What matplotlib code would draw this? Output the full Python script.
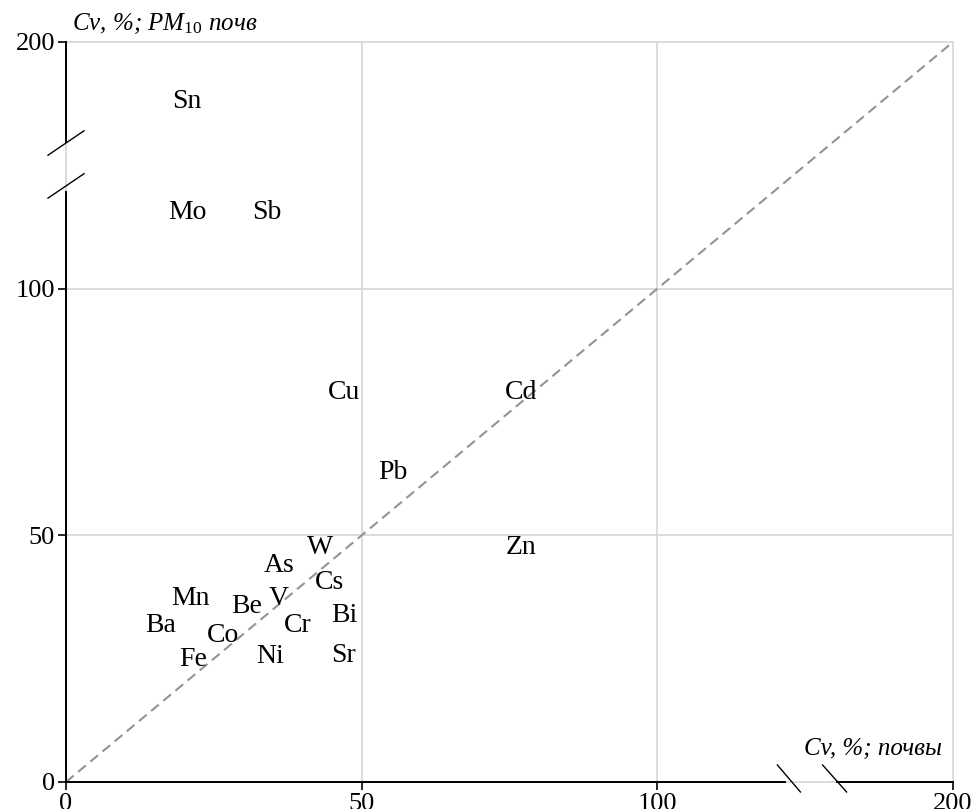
import numpy as np
import matplotlib
matplotlib.use('Agg')
import matplotlib.pyplot as plt

plt.rcParams['font.family'] = 'Liberation Serif'
plt.rcParams['mathtext.fontset'] = 'custom'
plt.rcParams['mathtext.it'] = 'Liberation Serif:italic'
plt.rcParams['mathtext.rm'] = 'Liberation Serif'

# element labels and their Cv values (soil, PM10 of soil)
elements = ['Sn', 'Mo', 'Sb', 'Cu', 'Cd', 'Pb', 'Zn', 'W', 'As', 'Cs',
            'Mn', 'Be', 'V', 'Bi', 'Ba', 'Cr', 'Co', 'Ni', 'Sr', 'Fe']
cv_soil = [20.4, 20.6, 34.0, 47.1, 77.0, 55.2, 77.0, 42.9, 36.1, 44.6,
           21.1, 30.6, 36.0, 47.1, 16.0, 39.2, 26.5, 34.6, 47.0, 21.5]
cv_pm10 = [177, 132, 132, 79.5, 79.5, 63.3, 48.1, 48.1, 44.4, 41.0,
           37.9, 36.1, 37.9, 34.3, 32.3, 32.3, 30.4, 26.0, 26.2, 25.4]

ticks = [0, 50, 100, 200]


# 100..200 squeezed into half the space (axis break)
def fwd(v):
    v = np.asarray(v, dtype=float)
    return np.where(v <= 100, v, 100 + (v - 100) / 2.0)


def inv(m):
    m = np.asarray(m, dtype=float)
    return np.where(m <= 100, m, 100 + (m - 100) * 2.0)


fig = plt.figure(figsize=(9.75, 8.09), dpi=100)
ax = fig.add_axes([66/975, 27/809, 887/975, 740/809])
ax.set_xscale('function', functions=(fwd, inv))
ax.set_yscale('function', functions=(fwd, inv))
ax.set_xlim(0, 200)
ax.set_ylim(0, 200)
ax.set_xticks(ticks)
ax.set_yticks(ticks)
ax.set_xticklabels([str(t) for t in ticks])
ax.set_yticklabels([str(t) for t in ticks])
ax.minorticks_off()

for s in ax.spines.values():
    s.set_visible(False)

ax.grid(True, color='#d9d9d9', lw=1.3)
for gl in ax.get_xgridlines() + ax.get_ygridlines():
    gl.set_clip_on(False)
ax.set_axisbelow(True)

ax.tick_params(direction='out', length=6, width=1.2, color='black',
               labelsize=19, pad=2)

# 1:1 line
ax.plot([0, 100, 200], [0, 100, 200], ls=(0, (4.8, 2.8)), color='#939393', lw=1.5)

for name, x, y in zip(elements, cv_soil, cv_pm10):
    ax.text(x, y, name, ha='center', va='center_baseline', fontsize=20)

# axis lines with breaks
tr = ax.transAxes
kw = dict(transform=tr, color='black', lw=1.4, clip_on=False)
ax.plot([0, 0.811], [0, 0], **kw)
ax.plot([0.869, 1.0], [0, 0], **kw)
ax.plot([0.802, 0.828], [0.023, -0.0135], color='black', lw=1, transform=tr, clip_on=False)
ax.plot([0.853, 0.880], [0.023, -0.0135], color='black', lw=1, transform=tr, clip_on=False)
ax.plot([0, 0], [0, 0.797], **kw)
ax.plot([0, 0], [0.865, 1.0], **kw)
ax.plot([-0.0203, 0.0203], [0.847, 0.880], color='black', lw=1, transform=tr, clip_on=False)
ax.plot([-0.0203, 0.0203], [0.789, 0.822], color='black', lw=1, transform=tr, clip_on=False)

ax.text(0.007, 1.025, r'Cv, %; PM$_{\mathit{10}}$ почв', transform=tr,
        ha='left', va='center', fontsize=18, style='italic')
ax.text(0.988, 0.045, 'Cv, %; почвы', transform=tr,
        ha='right', va='center', fontsize=18, style='italic')

fig.savefig('out.png', dpi=100)
